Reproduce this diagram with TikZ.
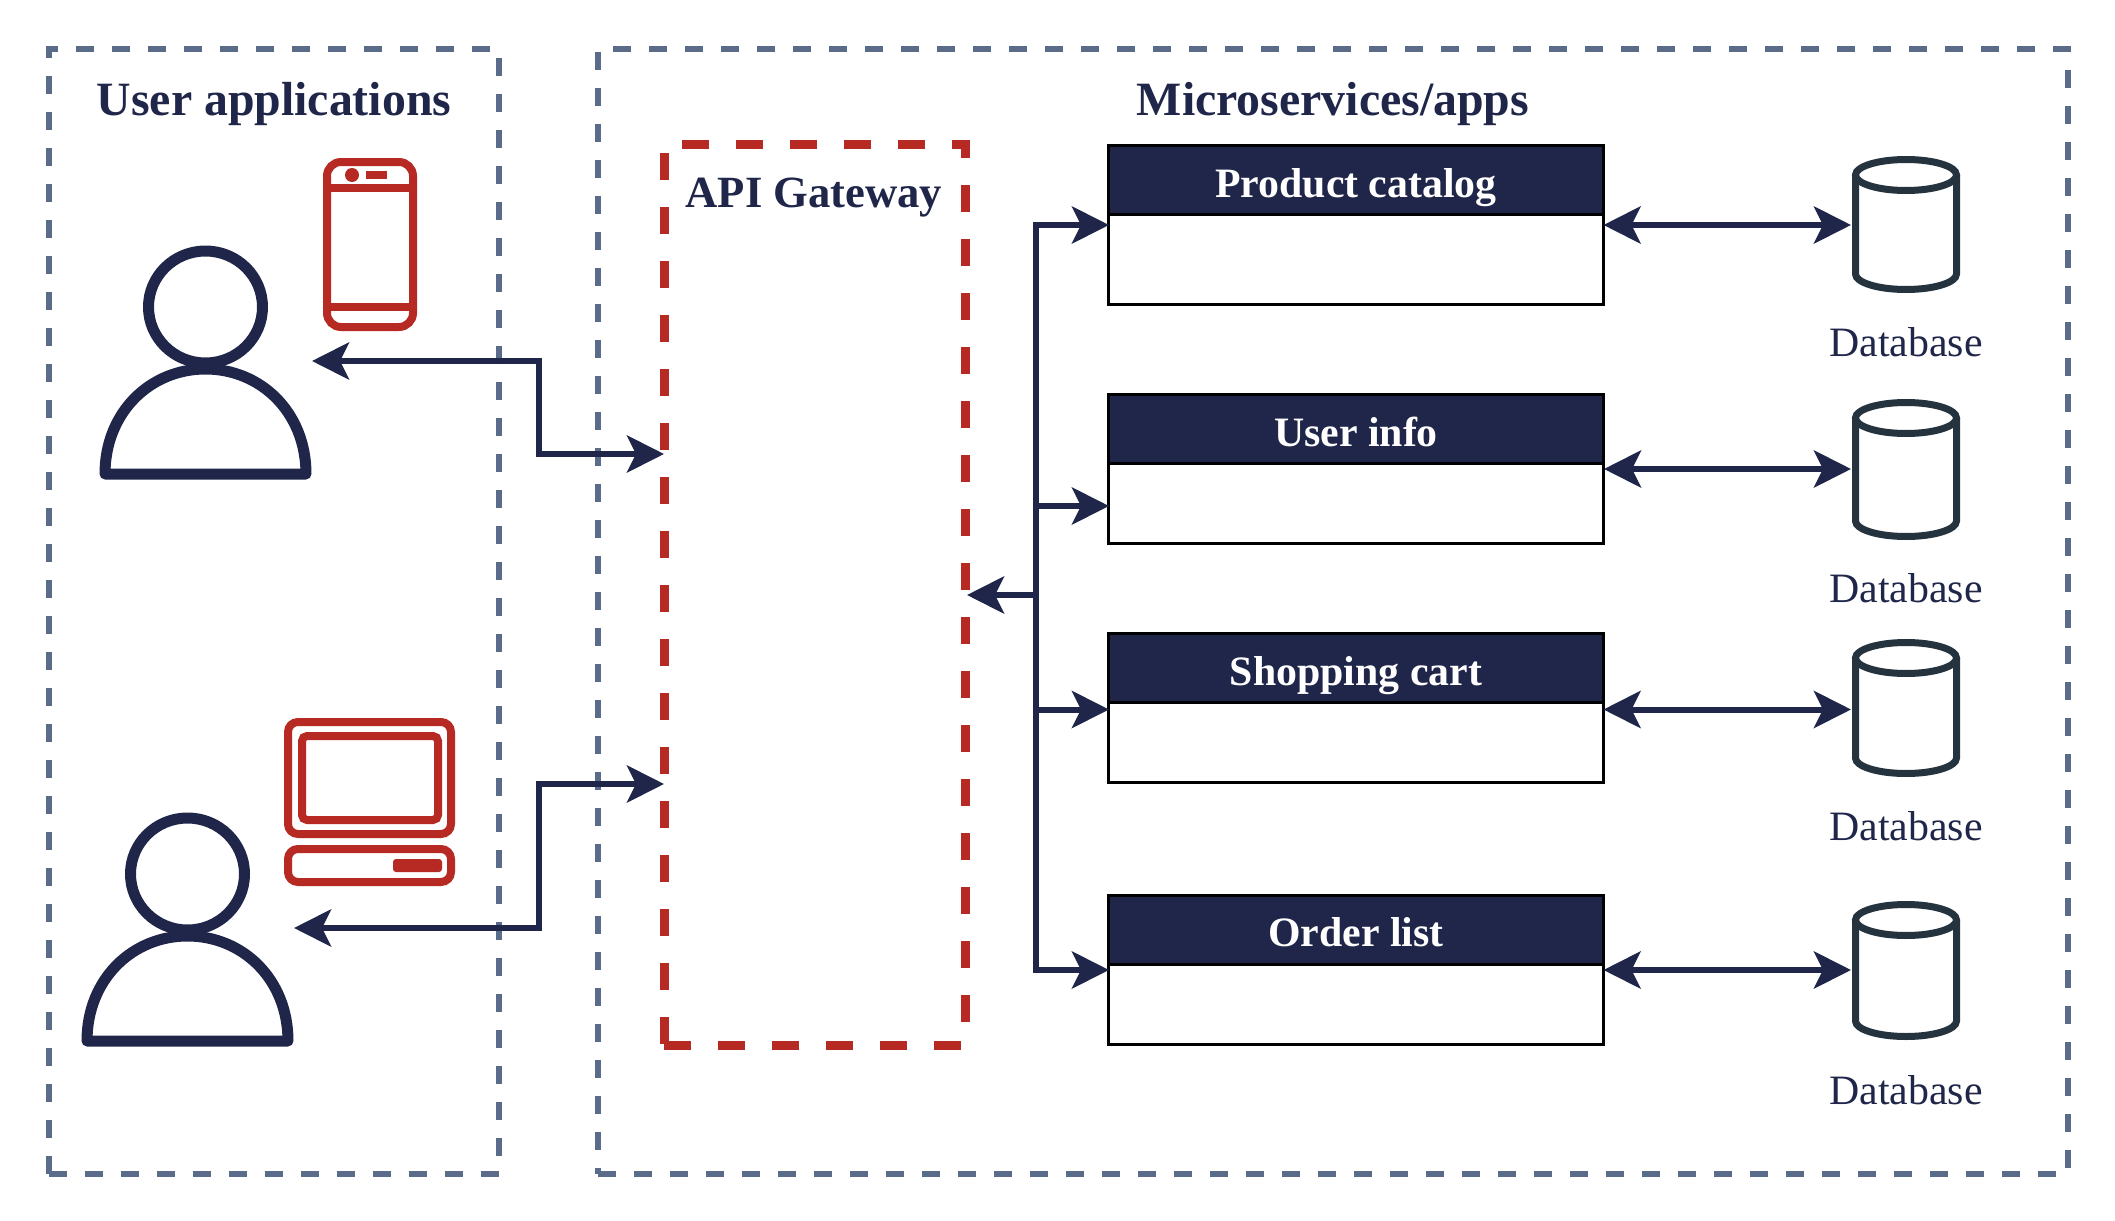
\documentclass[tikz,border=0pt]{standalone}
\usepackage{fontspec}
\setmainfont{Liberation Serif}
\usetikzlibrary{arrows.meta,positioning}
\definecolor{navy}{HTML}{1F2649}
\definecolor{slate}{HTML}{5A6C8A}
\definecolor{redline}{HTML}{B72A24}
\definecolor{dbline}{HTML}{25333F}
\tikzset{
  outerbox/.style={draw=slate, line width=.06cm, dash pattern=on .18cm off .18cm, minimum width=#1, minimum height=11.25cm, inner sep=0, outer sep=0},
  gatewaybox/.style={draw=redline, line width=.09cm, dash pattern=on .27cm off .27cm, minimum width=3.01cm, minimum height=9.01cm, inner sep=0, outer sep=0},
  title/.style={text=navy, font=\fontsize{13.6pt}{15pt}\selectfont\bfseries, inner sep=0},
  svchead/.style={draw=black, line width=.03cm, fill=navy, text=white, font=\fontsize{11.9pt}{14pt}\selectfont\bfseries, text height=.345cm, text depth=0pt, minimum width=4.95cm, minimum height=.69cm, inner sep=0, outer sep=0},
  svcbody/.style={draw=black, line width=.03cm, fill=white, minimum width=4.95cm, minimum height=#1, inner sep=0, outer sep=0},
  dbnode/.style={minimum width=1.1cm, minimum height=#1, inner sep=0, outer sep=0},
  dblabel/.style={text=navy, font=\fontsize{11.9pt}{14pt}\selectfont, inner sep=0},
  link/.style={draw=navy, line width=.06cm, -{Stealth[length=.37cm,width=.37cm,inset=.09cm]}},
  biglink/.style={link, {Stealth[length=.37cm,width=.37cm,inset=.09cm]}-{Stealth[length=.37cm,width=.37cm,inset=.09cm]}},
  icon/.style={draw=redline, line width=.08cm, rounded corners=.1cm},
  usericon/.pic={
    \draw[navy, line width=.11cm, line join=round] (0,0) ellipse (.57cm and .56cm);
    \draw[navy, line width=.11cm, line join=round] (-1.005,-1.67) .. controls (-1.005,-1.05) and (-.55,-.62) .. (0,-.62) .. controls (.55,-.62) and (1.005,-1.05) .. (1.005,-1.67) -- cycle;
  },
  pics/dbicon/.style={code={
    \draw[dbline, line width=.07cm] (0,#1/2-.155) ellipse (.505cm and .155cm);
    \draw[dbline, line width=.07cm] (-.505,#1/2-.155) -- (-.505,-#1/2+.155) arc (180:360:.505cm and .155cm) -- (.505,#1/2-.155);
  }}
}
\begin{document}
\begin{tikzpicture}
\useasboundingbox (0,0) rectangle (21.15,-12.21);

% dashed groups
\node[outerbox=4.5cm] (apps) at (2.74,-6.115) {};
\node[outerbox=14.70cm] (micro) at (13.33,-6.115) {};
\node[gatewaybox] (gateway) at (8.145,-5.945) {};
\node[title] (appstitle) at (2.74,-1.04) {User applications};
\node[title] (microtitle) at (13.33,-1.04) {Microservices/apps};
\node[title, font=\fontsize{12.7pt}{15pt}\selectfont\bfseries] (gatewaytitle) at (8.14,-1.98) {API Gateway};

% services
\node[svchead] (cataloghead) at (13.56,-1.80) {Product catalog};
\node[svcbody=.90cm, below=0pt of cataloghead] (catalog) {};
\node[svchead] (userhead) at (13.56,-4.29) {User info};
\node[svcbody=.80cm, below=0pt of userhead] (userinfo) {};
\node[svchead] (carthead) at (13.56,-6.68) {Shopping cart};
\node[svcbody=.80cm, below=0pt of carthead] (cart) {};
\node[svchead] (orderhead) at (13.56,-9.295) {Order list};
\node[svcbody=.80cm, below=0pt of orderhead] (order) {};

% databases
\node[dbnode=1.30cm] (db1) at (19.06,-2.245) {};
\node[dbnode=1.34cm] (db2) at (19.06,-4.695) {};
\node[dbnode=1.31cm] (db3) at (19.06,-7.08) {};
\node[dbnode=1.32cm] (db4) at (19.06,-9.705) {};
\pic at (db1) {dbicon=1.30};
\pic at (db2) {dbicon=1.34};
\pic at (db3) {dbicon=1.31};
\pic at (db4) {dbicon=1.32};
\node[dblabel] (dblabel1) at (19.06,-3.42) {Database};
\node[dblabel] (dblabel2) at (19.06,-5.88) {Database};
\node[dblabel] (dblabel3) at (19.06,-8.26) {Database};
\node[dblabel] (dblabel4) at (19.06,-10.90) {Database};

% users and devices
\pic at (2.055,-3.07) {usericon};
\pic at (1.875,-8.74) {usericon};
\draw[icon, rounded corners=.14cm] (3.27,-1.62) rectangle (4.13,-3.27);
\draw[icon, rounded corners=0] (3.27,-1.88) -- (4.13,-1.88) (3.27,-3.07) -- (4.13,-3.07);
\fill[redline] (3.52,-1.75) circle (.07);
\fill[redline] (3.66,-1.71) rectangle (3.87,-1.79);
\draw[icon] (2.88,-7.22) rectangle (4.51,-8.34);
\draw[icon, rounded corners=.05cm] (3.02,-7.36) rectangle (4.38,-8.20);
\draw[icon] (2.88,-8.49) rectangle (4.51,-8.82);
\fill[redline, rounded corners=.03cm] (3.93,-8.59) rectangle (4.42,-8.72);

% connector ends
\coordinate (user1) at (3.12,-3.61);
\coordinate (user2) at (2.94,-9.28);
\coordinate (gate1) at (6.64,-4.54);
\coordinate (gate2) at (6.64,-7.84);
\coordinate (gate3) at (9.67,-5.95);
\coordinate (catalogin) at (11.09,-2.25);
\coordinate (userin) at (11.09,-5.06);
\coordinate (cartin) at (11.09,-7.095);
\coordinate (orderin) at (11.09,-9.70);
\coordinate (userout) at (16.04,-4.69);
\coordinate (bus) at (10.36,-5.95);

\draw[biglink] (user1) -- (5.39,-3.61) -- (5.39,-4.54) -- (gate1);
\draw[biglink] (user2) -- (5.39,-9.28) -- (5.39,-7.84) -- (gate2);

\draw[link] (bus) -- (gate3);
\draw[link] (bus) |- (catalogin);
\draw[link] (bus) |- (userin);
\draw[link] (bus) |- (cartin);
\draw[link] (bus) |- (orderin);

\draw[biglink] (catalogin -| catalog.east) -- (catalogin -| db1.west);
\draw[biglink] (userout) -- (userout -| db2.west);
\draw[biglink] (cartin -| cart.east) -- (cartin -| db3.west);
\draw[biglink] (orderin -| order.east) -- (orderin -| db4.west);
\end{tikzpicture}
\end{document}
